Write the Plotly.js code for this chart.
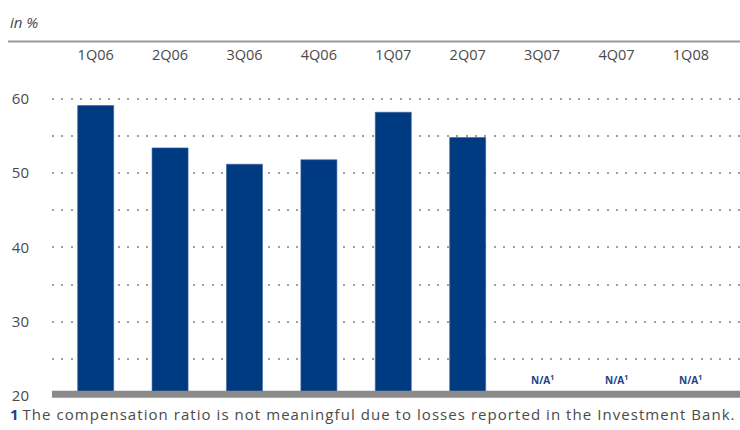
<!DOCTYPE html>
<html>
<head>
<meta charset="utf-8">
<script src="https://cdn.plot.ly/plotly-3.0.1.min.js"></script>
<style>
html,body{margin:0;padding:0;background:#fff;}
#chart{width:740px;height:430px;}
</style>
</head>
<body>
<div id="chart"></div>
<script>
// Data
const quarters = ["1Q06","2Q06","3Q06","4Q06","1Q07","2Q07","3Q07","4Q07","1Q08"];
const compRatio = [59.1, 53.4, 51.2, 51.8, 58.2, 54.8, null, null, null];
const naLabel = "N/A<sup>1</sup>";
const yTicks = [20, 30, 40, 50, 60];
const footnote = "The compensation ratio is not meaningful due to losses reported in the Investment Bank.";
const unitLabel = "in %";

const barColor = "#003a80";
const textGray = "#4a4a4a";
const fontFam = "'Open Sans', 'Noto Sans', sans-serif";

const trace = {
  type: "bar",
  x: quarters,
  y: compRatio,
  marker: {color: barColor, line: {color: "#3a62a0", width: 0.6}},
  hoverinfo: "skip"
};

const annotations = [];
quarters.forEach((q, i) => {
  if (compRatio[i] === null) {
    annotations.push({
      x: q, y: 22.2, xref: "x", yref: "y",
      text: naLabel, showarrow: false,
      font: {family: fontFam, size: 10, color: "#1d4288", weight: 700}
    });
  }
});
annotations.push({
  x: -0.064, y: 1.199, xref: "paper", yref: "paper", xanchor: "left", yanchor: "middle",
  text: unitLabel, showarrow: false,
  font: {family: fontFam, size: 15, color: textGray, style: "italic"}
});
annotations.push({
  x: -0.064, y: -0.057, xref: "paper", yref: "paper", xanchor: "left", yanchor: "middle",
  text: "<span style='color:#1d4288;font-weight:bold'>1</span> <span style='letter-spacing:1.05px'>" + footnote + "</span>",
  showarrow: false,
  font: {family: fontFam, size: 15, color: textGray}
});

const layout = {
  width: 740, height: 430,
  margin: {l: 52, r: 0, t: 84, b: 34},
  paper_bgcolor: "#fff", plot_bgcolor: "#fff",
  showlegend: false,
  bargap: 0.516,
  xaxis: {
    type: "category",
    range: [-0.587, 8.66],
    side: "top",
    showgrid: false, zeroline: false, showline: false,
    ticks: "", ticklabelstandoff: 20,
    tickfont: {family: fontFam, size: 14.5, color: textGray},
    fixedrange: true
  },
  yaxis: {
    range: [20, 62],
    tickvals: yTicks,
    showgrid: true, gridcolor: "#a0a0a0", gridwidth: 2, griddash: "2px,7.4px",
    minor: {dtick: 5, tick0: 0, showgrid: true, gridcolor: "#a0a0a0", gridwidth: 2, griddash: "2px,7.4px", ticks: ""},
    zeroline: false, showline: false,
    ticks: "", ticklabelstandoff: 22,
    tickfont: {family: fontFam, size: 15, color: textGray},
    fixedrange: true
  },
  shapes: [
    {type: "line", xref: "paper", yref: "paper", x0: -0.064, x1: 1, y0: 1.136, y1: 1.136,
     line: {color: "#9a9a9a", width: 2}},
    {type: "rect", xref: "paper", yref: "paper", x0: 0, x1: 1, y0: -0.006, y1: 0.017,
     fillcolor: "#8a8a8a", line: {width: 0}, layer: "above"}
  ],
  annotations: annotations
};

Plotly.newPlot("chart", [trace], layout, {displayModeBar: false, staticPlot: true});
</script>
</body>
</html>
